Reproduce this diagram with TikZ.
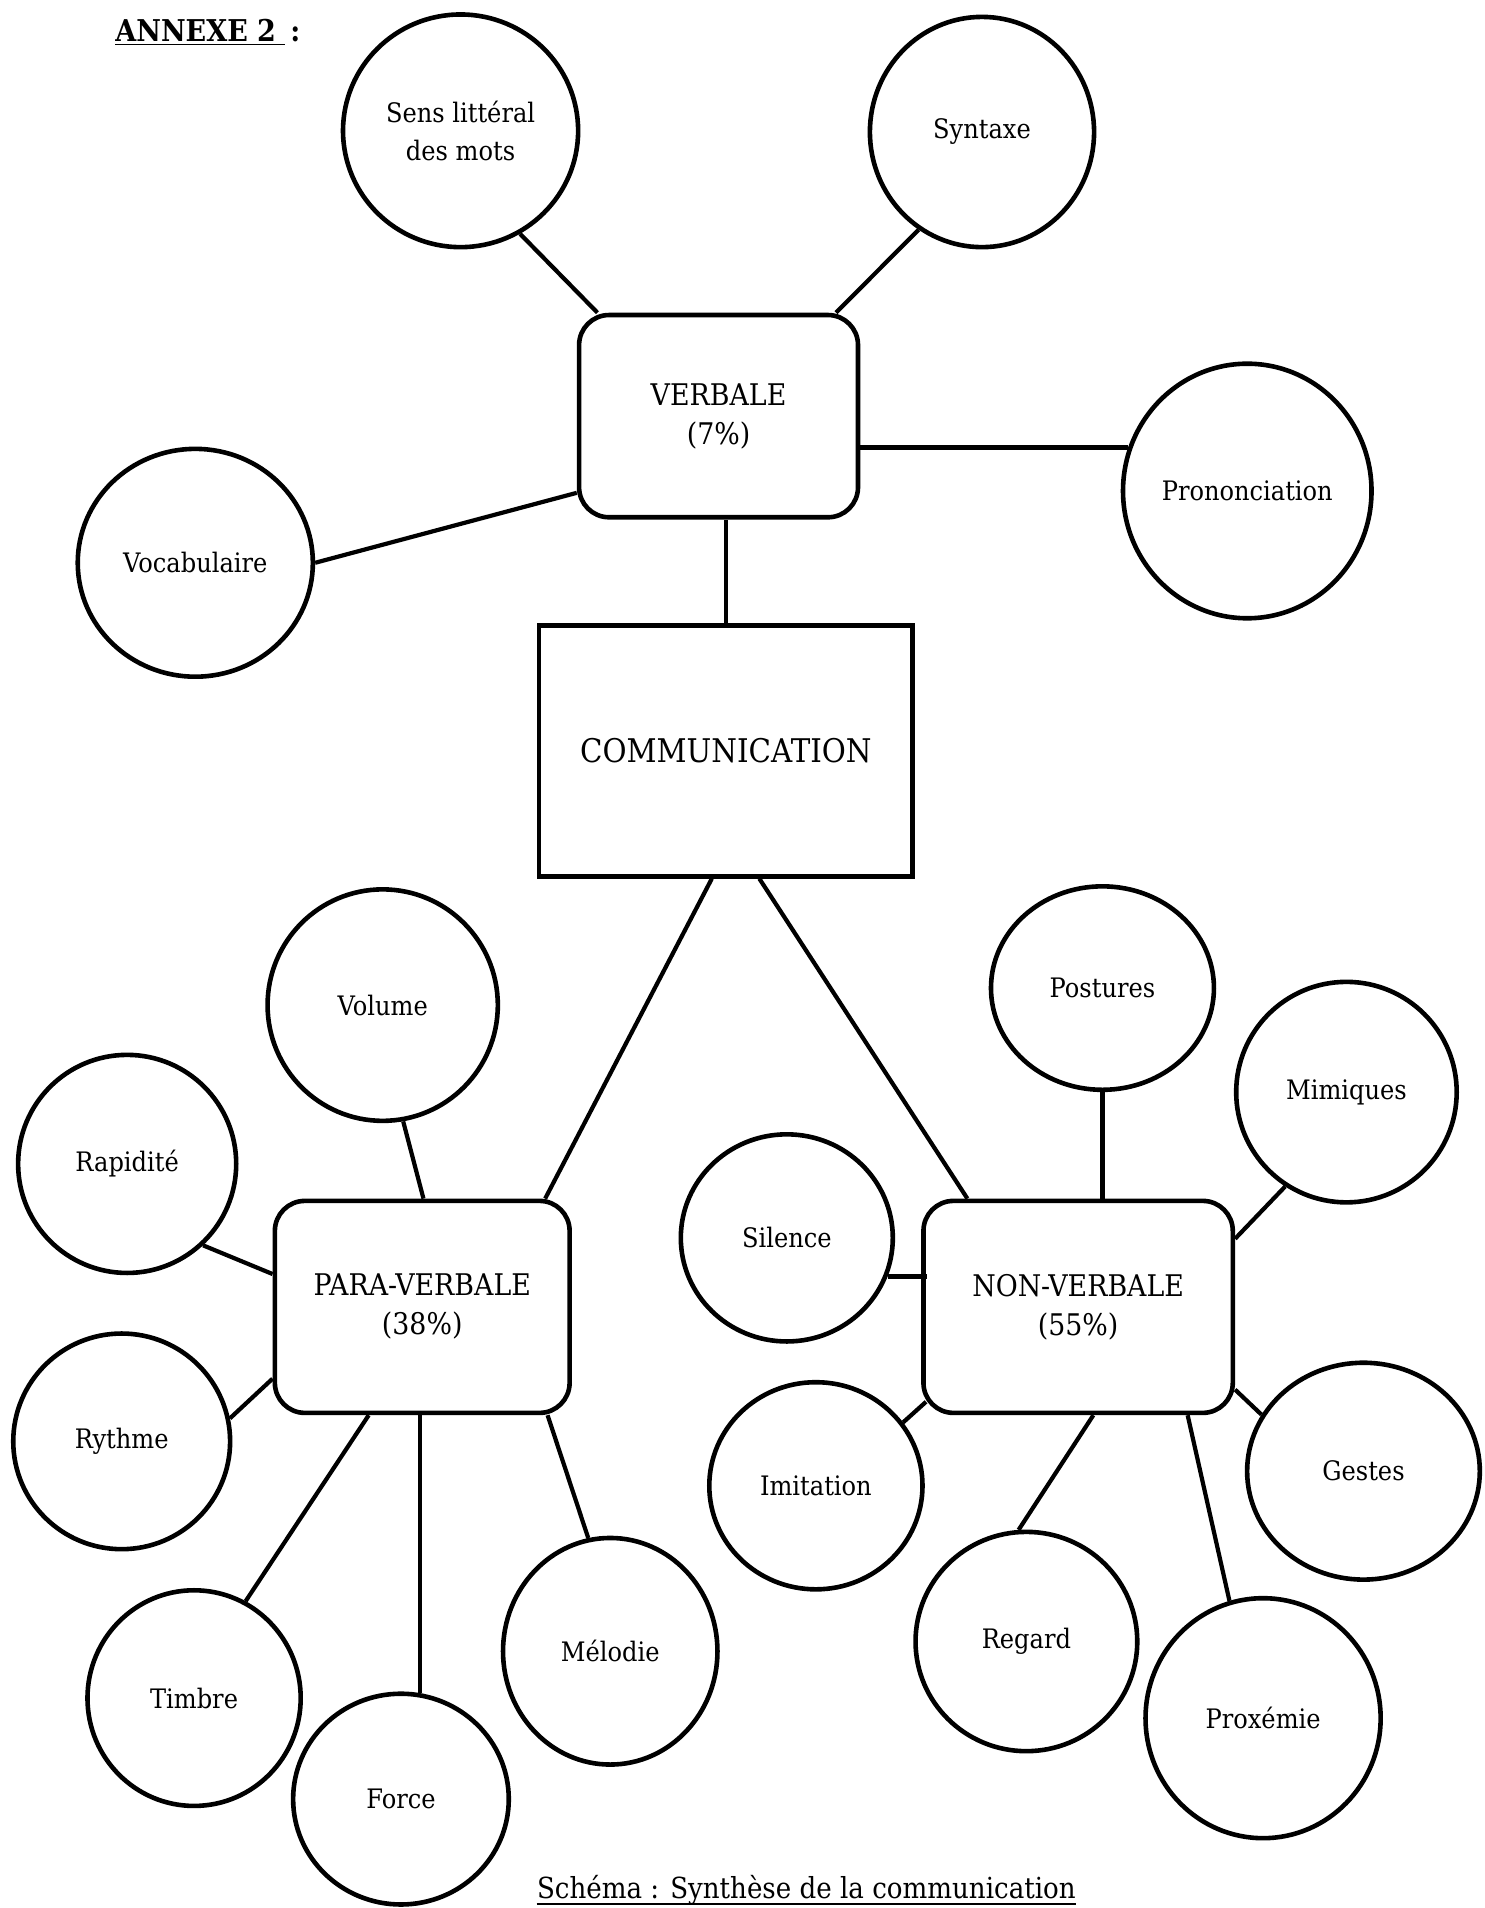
\documentclass[tikz,border=0pt]{standalone}
\usepackage{fontspec}
\setmainfont{DejaVu Serif}[FakeStretch=0.9]
\usetikzlibrary{shapes.geometric,calc}
\begin{document}
\begin{tikzpicture}[x=0.6082pt,y=-0.6082pt,
  el/.style 2 args={ellipse,draw,line width=2.3pt,inner sep=0pt,align=center,
     minimum width=#1*0.6082pt-2.3pt,minimum height=#2*0.6082pt-2.3pt,
     font=\fontsize{13.4}{18.9}\selectfont},
  rbox/.style 2 args={rectangle,draw,line width=2.3pt,rounded corners=15pt,inner sep=0pt,align=center,
     minimum width=#1*0.6082pt-2.3pt,minimum height=#2*0.6082pt-2.3pt,
     font=\fontsize{14.9}{19.5}\selectfont},
  sbox/.style 2 args={rectangle,draw,line width=2.3pt,inner sep=0pt,align=center,
     minimum width=#1*0.6082pt-2.3pt,minimum height=#2*0.6082pt-2.3pt,
     font=\fontsize{16.3}{20}\selectfont},
  link/.style={line width=2.1pt},
  uline/.style={line width=0.8pt},
  label/.style={anchor=base west,inner sep=0pt}]
\useasboundingbox (0,0) rectangle (1220,1568);

% title and caption
\node[label,font=\bfseries\fontsize{15}{18}\selectfont] (annexe) at (94.5,34.5) {\underline{ANNEXE 2 }\,:};
\node[label,font=\fontsize{14.5}{17}\selectfont] (caption) at (441,1560) {Schéma : Synthèse de la communication};
\draw[uline] ($(caption.base west)+(0,4.5)$) -- ($(caption.base east)+(0,4.5)$);

% central boxes
\node[rbox={233}{170}] (verbale) at (590.5,342) {VERBALE\\(7\%)};
\node[sbox={311}{210}] (comm) at (596.5,617) {COMMUNICATION};
\node[rbox={246}{178}] (para) at (347,1074) {PARA-VERBALE\\(38\%)};
\node[rbox={258}{178}] (non) at (886,1074) {NON-VERBALE\\(55\%)};

% verbal
\node[el={197}{195}] (sens) at (378.5,107.5) {Sens littéral\\des mots};
\node[el={188}{193}] (syn) at (807,108.5) {Syntaxe};
\node[el={208}{213}] (pron) at (1025,403.5) {Prononciation};
\node[el={197}{191}] (voc) at (160.5,462.5) {Vocabulaire};

% para-verbal
\node[el={193}{194}] (vol) at (314.5,826) {Volume};
\node[el={183}{183}] (rap) at (104.5,956.5) {Rapidité};
\node[el={182}{181}] (ryt) at (100,1184.5) {Rythme};
\node[el={179}{181}] (tim) at (159.5,1395.5) {Timbre};
\node[el={181}{177}] (force) at (329.5,1478.5) {Force};
\node[el={180}{190}] (mel) at (501.5,1357) {Mélodie};

% non-verbal
\node[el={187}{171}] (pos) at (906,812) {Postures};
\node[el={185}{185}] (mim) at (1106.5,897.5) {Mimiques};
\node[el={178}{174}] (sil) at (646.6,1017.3) {Silence};
\node[el={179}{174}] (imi) at (670.5,1221) {Imitation};
\node[el={195}{182}] (ges) at (1120.5,1209) {Gestes};
\node[el={186}{184}] (reg) at (843.5,1349) {Regard};
\node[el={197}{201}] (pro) at (1038,1412) {Proxémie};

% connectors: verbal
\draw[link] (sens.-60) -- ($(verbale.north west)+(17,0)$);
\draw[link] (syn.237) -- ($(verbale.north east)+(-20,0)$);
\draw[link] (pron.160) -- (pron.160 -| verbale.east);
\draw[link] (voc.0) -- ($(verbale.north west)+(0,148)$);
\draw[link] (comm.north) -- (comm.north |- verbale.south);

% connectors: communication
\draw[link] ($(comm.south)+(-11.5,0)$) -- ($(para.north east)+(-22,0)$);
\draw[link] ($(comm.south)+(27.5,0)$) -- ($(non.north west)+(38,0)$);

% connectors: para-verbal
\draw[link] (vol.-80) -- ($(para.north west)+(124,0)$);
\draw[link] (rap.-47) -- ($(para.north west)+(0,62)$);
\draw[link] (ryt.12) -- ($(para.south west)+(0,-30)$);
\draw[link] (tim.62) -- ($(para.south west)+(79,0)$);
\draw[link] (force.80) -- (force.80 |- para.south);
\draw[link] (mel.101) -- ($(para.south east)+(-20,0)$);

% connectors: non-verbal
\draw[link] (pos.south) -- (pos.south |- non.north);
\draw[link] (mim.237) -- ($(non.north east)+(0,33)$);
\draw[link] (sil.-21) -- ($(sil.-21 -| non.west)+(5,0)$);
\draw[link] (imi.36) -- ($(non.south west)+(4,-11)$);
\draw[link] (ges.151) -- ($(non.south east)+(0,-21)$);
\draw[link] (reg.94) -- ($(non.south west)+(141.5,0)$);
\draw[link] (pro.106) -- ($(non.south west)+(219,0)$);
\end{tikzpicture}
\end{document}
